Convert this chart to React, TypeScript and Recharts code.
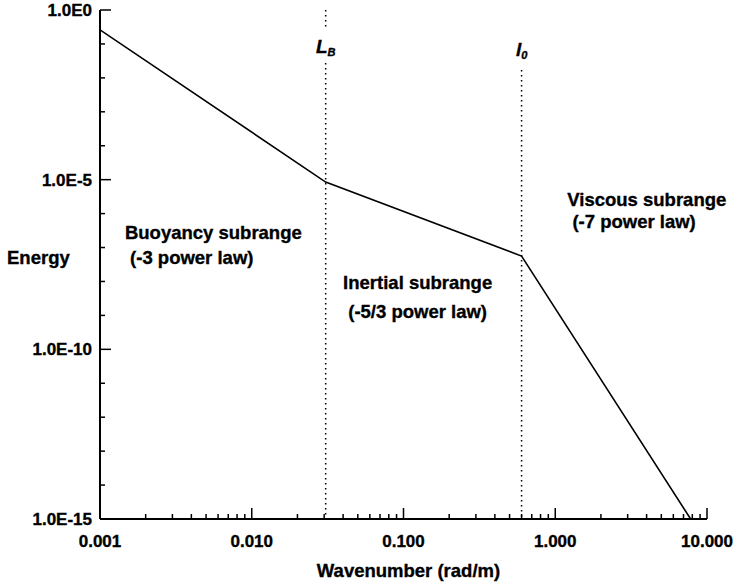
import React from "react";
import {
  Label,
  Line,
  LineChart,
  ReferenceDot,
  ReferenceLine,
  XAxis,
  YAxis,
} from "recharts";

// spectrum break points
const wavenumber = [0.001, 0.0307, 0.6, 7.8];
const energy = [0.26, 8.5e-6, 5.6e-8, 1e-15];

const xMajor = [0.001, 0.01, 0.1, 1, 10];
const xMajorLabels = ["0.001", "0.010", "0.100", "1.000", "10.000"];
const yMajor = [1, 1e-5, 1e-10, 1e-15];
const yMajorLabels = ["1.0E0", "1.0E-5", "1.0E-10", "1.0E-15"];

const LB = 0.0307;
const L0 = 0.6;

const data = wavenumber.map((k, i) => ({ k, e: energy[i] }));

const xTicks: number[] = [];
[0.001, 0.01, 0.1, 1].forEach((d) => {
  for (let m = 1; m < 10; m++) xTicks.push(d * m);
});
xTicks.push(10);

const yTicks: number[] = [];
for (let p = 0; p >= -15; p--) yTicks.push(Math.pow(10, p));

const FONT = "'Liberation Sans', Arial, sans-serif";
// a thin outline makes the text as heavy as the scanned original
const heavy = { stroke: "#000", strokeWidth: 0.35 };

const majorIndex = (v: number, majors: number[]) =>
  majors.findIndex((m) => Math.abs(v - m) / m < 1e-6);

function XTick(props: any) {
  const { x, y, payload, side } = props;
  const i = majorIndex(payload.value, xMajor);
  const len = i >= 0 ? 11 : 5;
  const dir = side === "top" ? 1 : -1;
  return (
    <g>
      <line x1={x} x2={x} y1={y} y2={y + dir * len} stroke="#000" strokeWidth={1.5} />
      {side !== "top" && i >= 0 && (
        <text
          x={x}
          y={y + 28}
          textAnchor="middle"
          fontFamily={FONT}
          fontWeight="bold"
          fontSize={17}
          fill="#000"
          {...heavy}
        >
          {xMajorLabels[i]}
        </text>
      )}
    </g>
  );
}

function YTick(props: any) {
  const { x, y, payload, side } = props;
  const i = majorIndex(payload.value, yMajor);
  const len = i >= 0 ? 11 : 5;
  const dir = side === "right" ? -1 : 1;
  return (
    <g>
      <line x1={x} x2={x + dir * len} y1={y} y2={y} stroke="#000" strokeWidth={1.5} />
      {side !== "right" && i >= 0 && (
        <text
          x={x - 8}
          y={y + 6}
          textAnchor="end"
          fontFamily={FONT}
          fontWeight="bold"
          fontSize={17}
          fill="#000"
          {...heavy}
        >
          {yMajorLabels[i]}
        </text>
      )}
    </g>
  );
}

const notes = [
  { x: 0.00146, y: 1.8e-7, gap: 25, lines: ["Buoyancy subrange", " (-3 power law)"] },
  { x: 0.04, y: 6e-9, gap: 29, lines: ["Inertial subrange", " (-5/3 power law)"] },
  { x: 1.2, y: 1.66e-6, gap: 22, lines: ["Viscous subrange", " (-7 power law)"] },
];

const noteLabel = (lines: string[], gap: number) => (p: any) => {
  const vb = p.viewBox;
  return (
    <text
      x={vb.x}
      y={vb.y}
      fontFamily={FONT}
      fontWeight="bold"
      fontSize={18.5}
      fill="#000"
      {...heavy}
      style={{ whiteSpace: "pre" }}
    >
      {lines.map((t, i) => (
        <tspan key={i} x={vb.x} dy={i === 0 ? 0 : gap}>
          {t}
        </tspan>
      ))}
    </text>
  );
};

const scaleLabel = (main: string, sub: string) => (p: any) => {
  const vb = p.viewBox;
  return (
    <text
      x={vb.x}
      y={vb.y}
      textAnchor="middle"
      fontFamily={FONT}
      fontWeight="bold"
      fontStyle="italic"
      fontSize={19}
      fill="#000"
      {...heavy}
    >
      {main}
      <tspan fontSize={11} dy={3}>
        {sub}
      </tspan>
    </text>
  );
};

const dotStyle = { stroke: "#000", strokeWidth: 1.5, strokeDasharray: "1.5 3.5" };

export default function App() {
  return (
    <div style={{ position: "absolute", left: 0, top: 0, width: 734, height: 582, background: "#fff" }}>
      <LineChart width={734} height={582} data={data} margin={{ top: 10, right: 27, bottom: 0, left: 0 }}>
        <XAxis
          dataKey="k"
          type="number"
          scale="log"
          domain={[0.001, 10]}
          allowDataOverflow
          ticks={xTicks}
          interval={0}
          tickSize={0}
          tickMargin={0}
          height={63}
          axisLine={{ stroke: "#000", strokeWidth: 2 }}
          tick={(p: any) => <XTick {...p} side="bottom" />}
        >
          <Label
            content={(p: any) => (
              <text
                x={p.viewBox.x + p.viewBox.width / 2 + 5}
                y={p.viewBox.y + 58}
                textAnchor="middle"
                fontFamily={FONT}
                fontWeight="bold"
                fontSize={18.5}
                fill="#000"
                {...heavy}
              >
                Wavenumber (rad/m)
              </text>
            )}
          />
        </XAxis>
        <XAxis
          xAxisId="top"
          orientation="top"
          dataKey="k"
          type="number"
          scale="log"
          domain={[0.001, 10]}
          allowDataOverflow
          ticks={xTicks}
          interval={0}
          tickSize={0}
          tickMargin={0}
          height={0}
          axisLine={{ stroke: "#000", strokeWidth: 2 }}
          tick={(p: any) => <XTick {...p} side="top" />}
        />
        <YAxis
          type="number"
          scale="log"
          domain={[1e-15, 1]}
          allowDataOverflow
          ticks={yTicks}
          interval={0}
          tickSize={0}
          tickMargin={0}
          width={100}
          axisLine={{ stroke: "#000", strokeWidth: 2 }}
          tick={(p: any) => <YTick {...p} side="left" />}
        >
          <Label
            content={() => (
              <text x={7} y={264} fontFamily={FONT} fontWeight="bold" fontSize={18.5} fill="#000" {...heavy}>
                Energy
              </text>
            )}
          />
        </YAxis>
        <YAxis
          yAxisId="right"
          orientation="right"
          type="number"
          scale="log"
          domain={[1e-15, 1]}
          allowDataOverflow
          ticks={yTicks}
          interval={0}
          tickSize={0}
          tickMargin={0}
          width={0}
          axisLine={{ stroke: "#000", strokeWidth: 2 }}
          tick={(p: any) => <YTick {...p} side="right" />}
        />
        <ReferenceLine segment={[{ x: LB, y: 1 }, { x: LB, y: 0.257 }]} {...dotStyle} />
        <ReferenceLine segment={[{ x: LB, y: 0.0275 }, { x: LB, y: 1e-15 }]} {...dotStyle} />
        <ReferenceLine segment={[{ x: L0, y: 0.017 }, { x: L0, y: 1e-15 }]} {...dotStyle} />
        <ReferenceDot x={LB} y={0.054} r={0} fill="none" stroke="none" label={scaleLabel("L", "B")} />
        <ReferenceDot x={L0} y={0.044} r={0} fill="none" stroke="none" label={scaleLabel("l", "0")} />
        {notes.map((n, i) => (
          <ReferenceDot
            key={i}
            x={n.x}
            y={n.y}
            r={0}
            fill="none"
            stroke="none"
            label={noteLabel(n.lines, n.gap)}
          />
        ))}
        <Line
          type="linear"
          dataKey="e"
          stroke="#000"
          strokeWidth={1.6}
          dot={false}
          isAnimationActive={false}
        />
      </LineChart>
    </div>
  );
}
